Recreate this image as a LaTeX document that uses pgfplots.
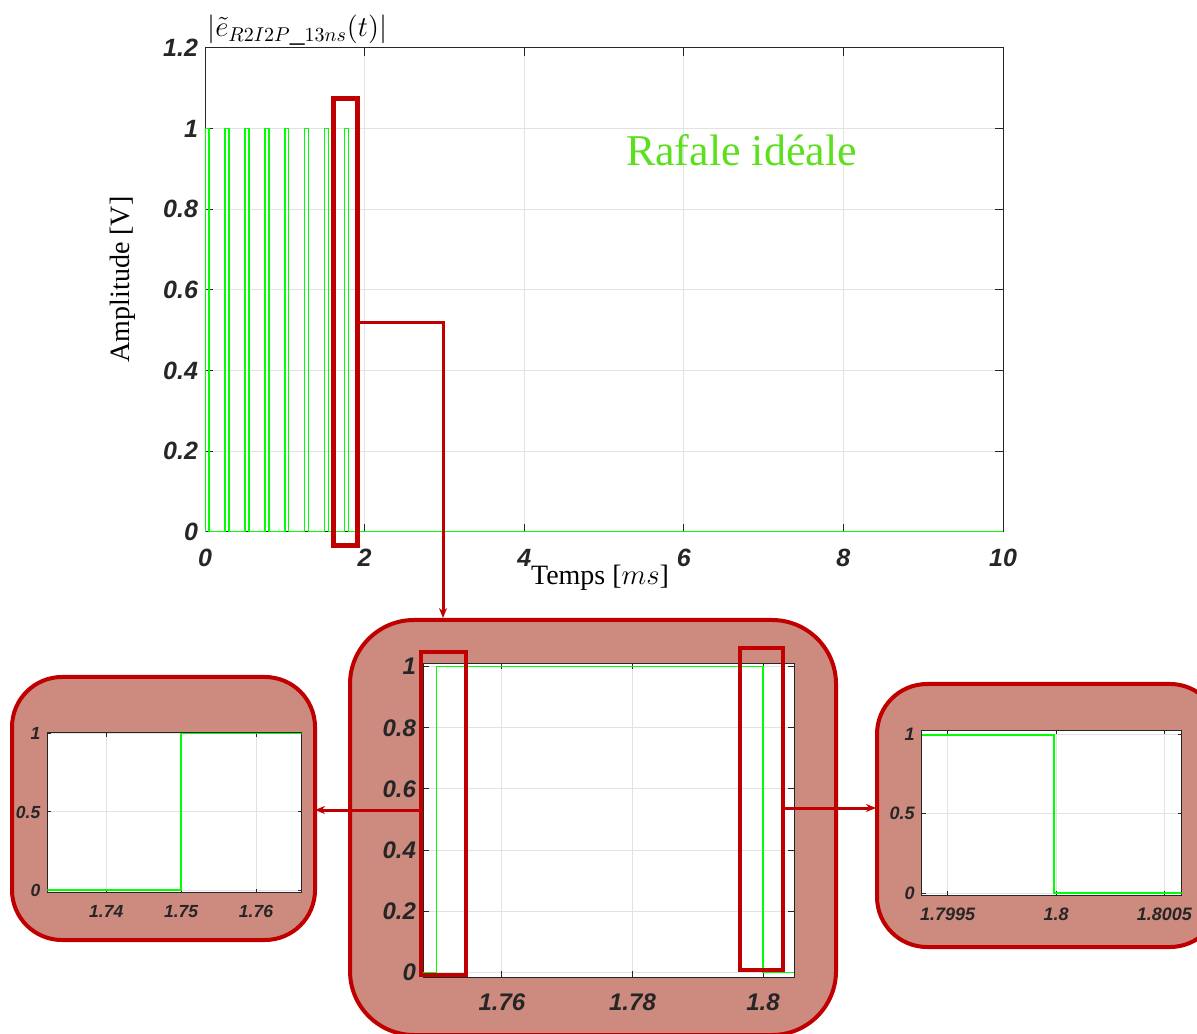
\documentclass[border=0pt]{standalone}
\usepackage{fontspec}
\setmainfont{Liberation Serif}
\setsansfont{Liberation Sans}
\usepackage{pgfplots}
\pgfplotsset{compat=1.18}
\usetikzlibrary{arrows.meta}
\definecolor{axc}{HTML}{262626}
\definecolor{gridc}{HTML}{E2E2E2}
\definecolor{dred}{HTML}{C00000}
\definecolor{boxfill}{HTML}{CD8A7E}
\definecolor{sig}{HTML}{00FF00}
\definecolor{rafale}{HTML}{5CE01E}
\pgfplotsset{
  matlab/.style={
    scale only axis, anchor=south west,
    axis line style={axc, line width=0.5pt},
    tick style={axc, line width=0.5pt},
    grid=major, major grid style={gridc, line width=0.5pt},
    tick label style={text=axc},
    /pgf/number format/assume math mode=true,
    axis background/.style={fill=white},
  },
  sigstyle/.style={sig, line width=0.7pt, no marks},
}
\newcommand{\tickfont}[1]{\sffamily\bfseries\itshape\fontsize{#1}{#1}\selectfont}
\begin{document}
\begin{tikzpicture}
\useasboundingbox (0,0) rectangle (598.5pt,516.5pt);
\clip (0,0) rectangle (598.5pt,516.5pt);

% rounded inset backgrounds
\draw[dred, line width=2pt, fill=boxfill, rounded corners=32pt] (175pt,206.5pt) rectangle (418pt,-1pt);
\draw[dred, line width=2pt, fill=boxfill, rounded corners=25pt] (6pt,178pt) rectangle (157.5pt,46.5pt);
\draw[dred, line width=2pt, fill=boxfill, rounded corners=25pt] (438.5pt,174.5pt) rectangle (610pt,43pt);

% main axis
\begin{axis}[matlab,
  at={(102.5pt,250.5pt)}, width=399pt, height=242pt,
  xmin=0, xmax=10, ymin=0, ymax=1.2,
  xtick={0,2,...,10}, ytick={0,0.2,0.4,0.6,0.8,1,1.2},
  major tick length=4pt,
  tick label style={font=\tickfont{12.5}},
  xticklabel style={yshift=-5pt},
]
\addplot[sigstyle] coordinates {
 (0,0)(0,1)(0.05,1)(0.05,0)
 (0.25,0)(0.25,1)(0.3,1)(0.3,0)
 (0.5,0)(0.5,1)(0.55,1)(0.55,0)
 (0.75,0)(0.75,1)(0.8,1)(0.8,0)
 (1,0)(1,1)(1.05,1)(1.05,0)
 (1.25,0)(1.25,1)(1.3,1)(1.3,0)
 (1.5,0)(1.5,1)(1.55,1)(1.55,0)
 (1.75,0)(1.75,1)(1.8,1)(1.8,0)
 (10,0)};
\end{axis}

% middle inset axis
\begin{axis}[matlab,
  at={(211.5pt,28pt)}, width=185.5pt, height=157pt,
  xmin=1.7479, xmax=1.80475, ymin=-0.015, ymax=1.012,
  xtick={1.76,1.78,1.8}, ytick={0,0.2,0.4,0.6,0.8,1},
  major tick length=3pt,
  tick label style={font=\tickfont{12}},
  xticklabel style={yshift=-5pt},
]
\addplot[sigstyle] coordinates {(1.7479,0)(1.75,0)(1.75,1)(1.8,1)(1.8,0)(1.80475,0)};
\end{axis}

% left inset axis
\begin{axis}[matlab,
  at={(23.65pt,70.15pt)}, width=127.2pt, height=80pt,
  xmin=1.73213, xmax=1.7661, ymin=-0.013, ymax=1.004,
  xtick={1.74,1.75,1.76}, ytick={0,0.5,1},
  major tick length=2pt,
  tick label style={font=\tickfont{8.75}},
  xticklabel style={yshift=-3pt},
]
\addplot[sigstyle] coordinates {(1.73213,0.005)(1.75,0.005)(1.75,1)(1.7661,1)};
\end{axis}

% right inset axis
\begin{axis}[matlab,
  at={(460.85pt,69pt)}, width=130pt, height=82.5pt,
  xmin=1.79938, xmax=1.80058, ymin=-0.011, ymax=1.027,
  xtick={1.7995,1.8,1.8005}, ytick={0,0.5,1},
  xticklabels={1.7995,1.8,1.8005},
  major tick length=2pt,
  tick label style={font=\tickfont{9}},
  xticklabel style={yshift=-3pt},
]
\addplot[sigstyle, line width=0.9pt] coordinates {(1.79938,0.995)(1.79999,0.995)(1.79999,0)(1.80058,0)};
\end{axis}

% highlight rectangles
\draw[dred, line width=2.5pt] (166.5pt,467pt) rectangle (178.5pt,243.5pt);
\draw[dred, line width=2.3pt] (210.5pt,190.5pt) rectangle (233pt,29pt);
\draw[dred, line width=2.3pt] (370pt,192.5pt) rectangle (391.5pt,31.5pt);

% connectors
\draw[dred, line width=1.5pt, -{Stealth[length=5pt,width=4pt]}] (178.5pt,355pt) -- (221.5pt,355pt) -- (221.5pt,207.5pt);
\draw[dred, line width=1.5pt, -{Stealth[length=5pt,width=4pt]}] (210pt,111.5pt) -- (157.5pt,111.5pt);
\draw[dred, line width=1.5pt, -{Stealth[length=5pt,width=4pt]}] (392pt,112.5pt) -- (438pt,112.5pt);

% texts
\node[anchor=west, inner sep=0pt] at (103.5pt,501.5pt) {\fontsize{14.8}{16}\selectfont $\left|\tilde{e}_{R2I2P\_13ns}(t)\right|$};
\node[rotate=90, inner sep=0pt] at (61.5pt,376.75pt) {\fontsize{14}{16}\selectfont Amplitude [V]};
\node[inner sep=0pt] at (300pt,227.5pt) {\fontsize{14}{16}\selectfont Temps [$ms$]};
\node[inner sep=0pt, text=rafale] at (370.75pt,441.5pt) {\fontsize{22}{24}\selectfont Rafale idéale};
\end{tikzpicture}
\end{document}
